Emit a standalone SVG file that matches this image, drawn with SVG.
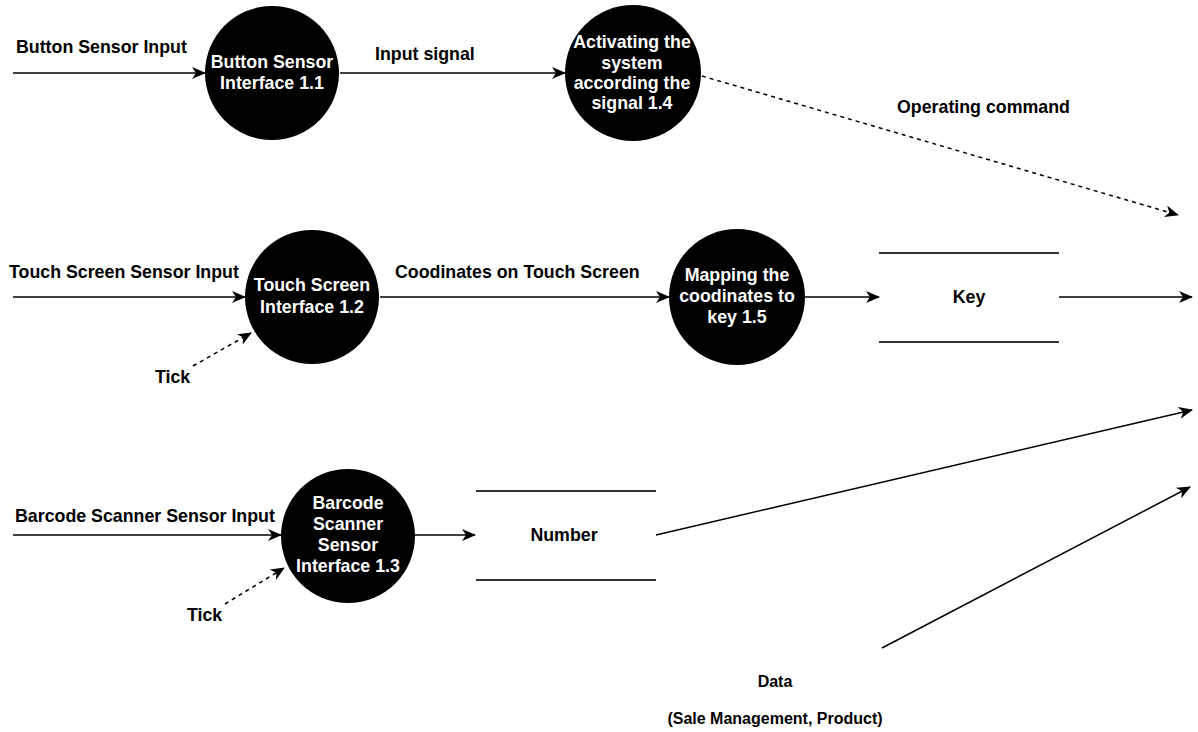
<svg xmlns="http://www.w3.org/2000/svg" width="1198" height="732" viewBox="0 0 1198 732">
<style>
.proc{fill:#000;}
.pt{fill:#fff;font-family:"Liberation Sans",Arial,sans-serif;font-weight:bold;font-size:17.8px;text-anchor:middle;}
.lbl{fill:#000;font-family:"Liberation Sans",Arial,sans-serif;font-weight:bold;font-size:17.8px;}
.sm{font-size:16px;}
.mid{text-anchor:middle;}
.ln{stroke:#000;stroke-width:1.5;fill:none;}
.dash{stroke-dasharray:4 4;}
.store{stroke:#333;stroke-width:2;fill:none;}
</style>
<defs>
<marker id="arr" markerUnits="userSpaceOnUse" markerWidth="14" markerHeight="12" viewBox="0 0 14 12" refX="13" refY="6" orient="auto">
<path d="M0,0 L14,6 L0,12 L4,6 Z" fill="#000"/>
</marker>
</defs>
<rect width="1198" height="732" fill="#fff"/>
<g id="connectors">
<line class="ln" x1="13" y1="73" x2="205" y2="73" marker-end="url(#arr)"/>
<line class="ln" x1="340" y1="73" x2="565" y2="73" marker-end="url(#arr)"/>
<line class="ln dash" x1="702" y1="76" x2="1178" y2="215" marker-end="url(#arr)"/>
<line class="ln" x1="13" y1="297" x2="245" y2="297" marker-end="url(#arr)"/>
<line class="ln dash" x1="193" y1="366" x2="251" y2="333" marker-end="url(#arr)"/>
<line class="ln" x1="380" y1="297" x2="669" y2="297" marker-end="url(#arr)"/>
<line class="ln" x1="805" y1="297" x2="879" y2="297" marker-end="url(#arr)"/>
<line class="ln" x1="1059" y1="297" x2="1192" y2="297" marker-end="url(#arr)"/>
<line class="ln" x1="13" y1="535" x2="281" y2="535" marker-end="url(#arr)"/>
<line class="ln dash" x1="225" y1="604" x2="284" y2="568" marker-end="url(#arr)"/>
<line class="ln" x1="415" y1="535" x2="475" y2="535" marker-end="url(#arr)"/>
<line class="ln" x1="656" y1="535" x2="1192" y2="410" marker-end="url(#arr)"/>
<line class="ln" x1="882" y1="648" x2="1190" y2="487" marker-end="url(#arr)"/>
</g>
<g id="labels">
<text class="lbl" x="16" y="53">Button Sensor Input</text>
<text class="lbl" x="375" y="60">Input signal</text>
<text class="lbl" x="897" y="113">Operating command</text>
<text class="lbl" x="9" y="278">Touch Screen Sensor Input</text>
<text class="lbl" x="395" y="278">Coodinates on Touch Screen</text>
<text class="lbl" x="155" y="383">Tick</text>
<text class="lbl" x="15" y="522">Barcode Scanner Sensor Input</text>
<text class="lbl" x="187" y="621">Tick</text>
<text class="lbl sm mid" x="775" y="687">Data</text>
<text class="lbl sm mid" x="775" y="724">(Sale Management, Product)</text>
</g>
<g id="p1_1">
<circle class="proc" cx="272" cy="73" r="67"/>
<text class="pt" x="272" y="68">Button Sensor</text>
<text class="pt" x="272" y="89">Interface 1.1</text>
</g>
<g id="p1_4">
<circle class="proc" cx="633" cy="73" r="68"/>
<text class="pt" x="632" y="48">Activating the</text>
<text class="pt" x="632" y="69">system</text>
<text class="pt" x="632" y="89">according the</text>
<text class="pt" x="632" y="109">signal 1.4</text>
</g>
<g id="p1_2">
<circle class="proc" cx="312" cy="297" r="67"/>
<text class="pt" x="312" y="291">Touch Screen</text>
<text class="pt" x="312" y="313">Interface 1.2</text>
</g>
<g id="p1_5">
<circle class="proc" cx="737" cy="297" r="68"/>
<text class="pt" x="737" y="281">Mapping the</text>
<text class="pt" x="737" y="302">coodinates to</text>
<text class="pt" x="737" y="323">key 1.5</text>
</g>
<g id="p1_3">
<circle class="proc" cx="348" cy="536" r="67"/>
<text class="pt" x="348" y="509">Barcode</text>
<text class="pt" x="348" y="530">Scanner</text>
<text class="pt" x="348" y="551">Sensor</text>
<text class="pt" x="348" y="572">Interface 1.3</text>
</g>
<g id="store_key">
<line class="store" x1="879" y1="253" x2="1059" y2="253"/>
<line class="store" x1="879" y1="342" x2="1059" y2="342"/>
<text class="lbl mid" x="969" y="303">Key</text>
</g>
<g id="store_number">
<line class="store" x1="476" y1="491" x2="656" y2="491"/>
<line class="store" x1="476" y1="580" x2="656" y2="580"/>
<text class="lbl mid" x="564" y="541">Number</text>
</g>
</svg>
